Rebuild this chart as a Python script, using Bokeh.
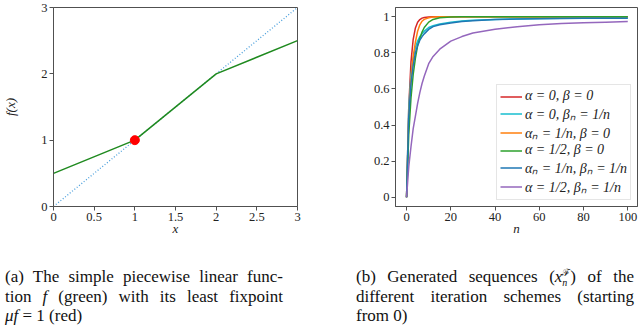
import math
from bokeh.plotting import figure
from bokeh.layouts import row, column
from bokeh.models import Div, Label, Legend, LegendItem, FixedTicker
from bokeh.embed import file_html
from bokeh.resources import INLINE

# ---------------- data ----------------
# (a) piecewise linear function f and the diagonal
f_x = [0, 1, 2, 3]
f_y = [0.5, 1, 2, 2.5]
diag_x = [0, 3]
diag_y = [0, 3]
fix_x = [1]
fix_y = [1]

# (b) generated sequences
n_vals = [0, 1, 2, 3, 4, 5, 6, 7, 8, 10, 12, 15, 20, 25, 30, 40, 50, 60, 70, 80, 90, 100]
seq_red = [0, 0.5, 0.75, 0.875, 0.938, 0.969, 0.984, 0.992, 0.996, 0.999, 1, 1, 1, 1, 1, 1, 1, 1, 1, 1, 1, 1]
seq_cyan = [0, 0.5, 0.68, 0.77, 0.83, 0.865, 0.89, 0.905, 0.92, 0.94, 0.95, 0.96, 0.97, 0.976, 0.98, 0.985, 0.988, 0.99, 0.991, 0.992, 0.993, 0.993]
seq_orange = [0, 0.45, 0.65, 0.78, 0.86, 0.92, 0.955, 0.975, 0.985, 0.994, 0.998, 1, 1, 1, 1, 1, 1, 1, 1, 1, 1, 1]
seq_green = [0, 0.35, 0.55, 0.68, 0.77, 0.84, 0.88, 0.915, 0.94, 0.97, 0.985, 0.994, 0.998, 1, 1, 1, 1, 1, 1, 1, 1, 1]
seq_blue = [0, 0.45, 0.63, 0.73, 0.8, 0.84, 0.87, 0.89, 0.905, 0.93, 0.945, 0.955, 0.965, 0.973, 0.978, 0.984, 0.987, 0.989, 0.99, 0.991, 0.992, 0.992]
seq_purple = [0, 0.17, 0.28, 0.38, 0.45, 0.52, 0.58, 0.63, 0.67, 0.74, 0.78, 0.82, 0.865, 0.89, 0.91, 0.93, 0.945, 0.955, 0.962, 0.967, 0.97, 0.973]
series = [seq_red, seq_cyan, seq_orange, seq_green, seq_blue, seq_purple]
series_labels = ["α = 0, β = 0", "α = 0, βₙ = 1/n", "αₙ = 1/n, β = 0",
                 "α = 1/2, β = 0", "αₙ = 1/n, βₙ = 1/n", "α = 1/2, βₙ = 1/n"]
series_colors = ["#d62728", "#17becf", "#ff7f0e", "#2ca02c", "#1f77b4", "#9467bd"]

xa_ticks = [0, 0.5, 1, 1.5, 2, 2.5, 3]
xa_labels = ["0", "0.5", "1", "1.5", "2", "2.5", "3"]
ya_ticks = [0, 1, 2, 3]
ya_labels = ["0", "1", "2", "3"]
xb_ticks = [0, 20, 40, 60, 80, 100]
xb_labels = ["0", "20", "40", "60", "80", "100"]
yb_ticks = [0, 0.2, 0.4, 0.6, 0.8, 1]
yb_labels = ["0", "0.2", "0.4", "0.6", "0.8", "1"]

SERIF = "'Liberation Serif', serif"
AX = "#505050"


def style(p):
    p.grid.visible = False
    p.outline_line_color = AX
    p.outline_line_width = 1
    p.background_fill_color = "white"
    p.border_fill_color = "white"
    for ax in (p.xaxis[0], p.yaxis[0]):
        ax.axis_line_color = AX
        ax.major_tick_line_color = AX
        ax.major_tick_out = 4
        ax.major_tick_in = 0
        ax.minor_tick_line_color = None
        ax.major_label_text_font = SERIF
        ax.major_label_text_font_size = "12.5px"
        ax.major_label_text_color = "#222222"
        ax.major_label_standoff = 2
        ax.axis_label_text_font = SERIF
        ax.axis_label_text_font_size = "13px"
        ax.axis_label_text_font_style = "italic"
        ax.axis_label_text_color = "#222222"


# ---------------- (a) ----------------
p1 = figure(width=320, height=240, x_range=(0, 3), y_range=(0, 3),
            output_backend="svg", toolbar_location=None,
            min_border_left=53, min_border_right=23, min_border_top=7, min_border_bottom=33)
style(p1)
p1.xaxis.ticker = FixedTicker(ticks=xa_ticks)
p1.xaxis.major_label_overrides = dict(zip(xa_ticks, xa_labels))
p1.yaxis.ticker = FixedTicker(ticks=ya_ticks)
p1.yaxis.major_label_overrides = dict(zip(ya_ticks, ya_labels))
p1.xaxis.axis_label = "x"
p1.yaxis.axis_label = "f(x)"
p1.xaxis.axis_label_standoff = -3
p1.yaxis.axis_label_standoff = 20
p1.yaxis.major_label_orientation = "horizontal"

p1.line(diag_x, diag_y, line_color="#4a9fdc", line_width=1.3, line_dash="1 2")
p1.line(f_x, f_y, line_color="#1f8a1f", line_width=1.5)
p1.scatter(fix_x, fix_y, size=9, fill_color="#ff0000", line_color="#ff0000")

# ---------------- (b) ----------------
p2 = figure(width=320, height=240, x_range=(-5, 104.4), y_range=(-0.051, 1.051),
            output_backend="svg", toolbar_location=None,
            min_border_left=75, min_border_right=3, min_border_top=4, min_border_bottom=34)
style(p2)
p2.xaxis.ticker = FixedTicker(ticks=xb_ticks)
p2.xaxis.major_label_overrides = dict(zip(xb_ticks, xb_labels))
p2.yaxis.ticker = FixedTicker(ticks=yb_ticks)
p2.yaxis.major_label_overrides = dict(zip(yb_ticks, yb_labels))
p2.xaxis.axis_label = "n"
p2.xaxis.axis_label_standoff = -3
p2.yaxis.major_label_orientation = "horizontal"

items = []
for ys, lab, col in zip(series, series_labels, series_colors):
    r = p2.line(n_vals, ys, line_color=col, line_width=1.5)
    items.append(LegendItem(label=lab, renderers=[r]))

legend = Legend(items=items, location="bottom_right")
legend.label_text_font = SERIF
legend.label_text_font_style = "italic"
legend.label_text_font_size = "14px"
legend.label_text_color = "#222222"
legend.glyph_width = 22
legend.glyph_height = 15
legend.label_height = 15
legend.label_standoff = 3
legend.spacing = 0
legend.padding = 3
legend.margin = 6
legend.border_line_color = "#cccccc"
legend.background_fill_color = "white"
legend.background_fill_alpha = 1
p2.add_layout(legend)

# y-axis label x_n^F (rotated)
p2.add_layout(Label(x=-24.2, y=0.481, text="x", angle=math.pi / 2, text_font=SERIF,
                    text_font_style="italic", text_font_size="14px", text_align="center",
                    text_baseline="middle", text_color="#222222"))
p2.add_layout(Label(x=-27.4, y=0.527, text="ℱ", angle=math.pi / 2, text_font=SERIF,
                    text_font_size="9px", text_align="center",
                    text_baseline="middle", text_color="#222222"))
p2.add_layout(Label(x=-23.1, y=0.541, text="n", angle=math.pi / 2, text_font=SERIF,
                    text_font_style="italic", text_font_size="9px", text_align="center",
                    text_baseline="middle", text_color="#222222"))

# ---------------- captions ----------------
JL = "text-align:justify; text-align-last:justify;"
cap_style = ("font-family:'Liberation Serif', serif; font-size:17px; line-height:19.5px; "
             "color:#111111; width:278px; margin-top:22px;")
sub = ('<span style="display:inline-block; width:0; line-height:0; position:relative; top:4px; '
       'font-size:10px;"><i>n</i></span>')
sup = '<span style="line-height:0; position:relative; top:-6px; font-size:10px;">ℱ</span>'
cap_a = Div(width=320, height=85, text=(
    f'<div style="{cap_style}">'
    f'<div style="{JL}">(a) The simple piecewise linear func-</div>'
    f'<div style="{JL}">tion <i>f</i> (green) with its least fixpoint</div>'
    f'<div><i>μf</i> = 1 (red)</div></div>'))
cap_b = Div(width=320, height=85, text=(
    f'<div style="{cap_style} margin-left:21px;">'
    f'<div style="{JL} height:19.5px;">(b) Generated sequences (<i>x</i>{sub}{sup}) of the</div>'
    f'<div style="{JL}">different iteration schemes (starting</div>'
    f'<div>from 0)</div></div>'))

layout = column(row(p1, p2), row(cap_a, cap_b))

with open("out.html", "w") as fh:
    fh.write(file_html(layout, INLINE))
